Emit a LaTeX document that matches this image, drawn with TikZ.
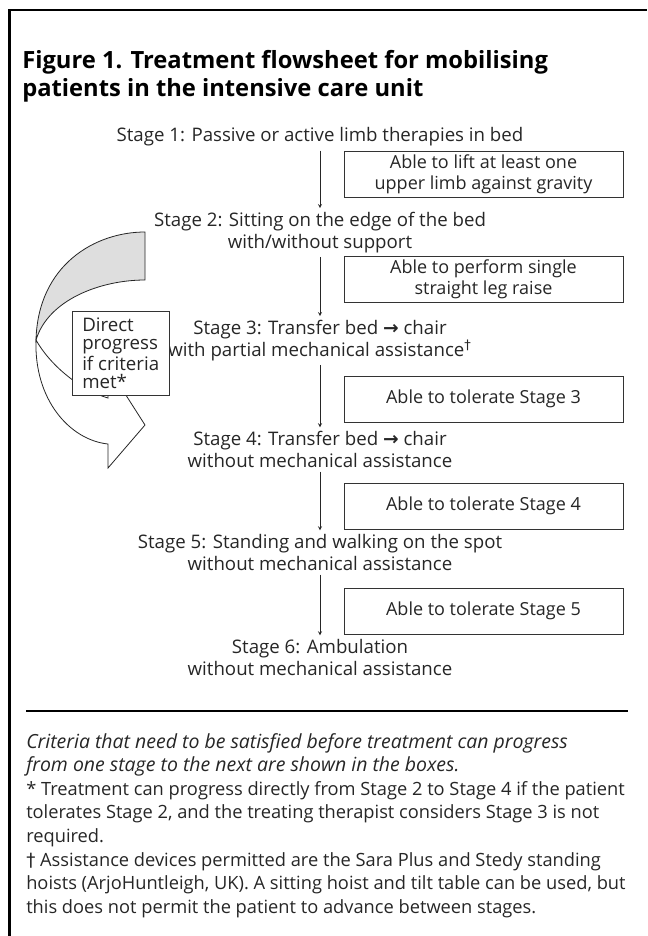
\documentclass[tikz,border=0pt]{standalone}
\usepackage{fontspec}
\setmainfont{Open Sans}
\newfontfamily\symfont{DejaVu Sans}
\usetikzlibrary{arrows,positioning}

\newcommand{\stagefont}{\fontsize{14}{16}\selectfont}
\newcommand{\critfont}{\fontsize{13.5}{16}\selectfont}
\newcommand{\titlefont}{\fontsize{17.8}{21}\selectfont\bfseries}
\newcommand{\notesfont}{\fontsize{13.7}{17.7}\selectfont}
\newcommand{\itnote}{\fontsize{14.6}{17.7}\selectfont\itshape}
\newcommand{\tobed}{{\symfont\bfseries\char"2192}}

\tikzset{
    frameline/.style={draw=black,line width=1.7pt},
    ruleline/.style={draw=black,line width=1.5pt},
    titletxt/.style={align=left,inner sep=0pt,text=black,font=\titlefont},
    stagetxt/.style={align=center,inner sep=1pt,text=black!85,font=\stagefont},
    critbox/.style={draw=black!80,fill=white,minimum width=209pt,minimum height=34.5pt,align=center,inner sep=0pt,text=black!85,font=\critfont},
    directbox/.style={draw=black!80,fill=white,minimum height=63pt,align=left,inner xsep=7.5pt,inner ysep=3pt,text=black!85,font=\fontsize{14}{14}\selectfont},
    notetxt/.style={align=left,inner sep=0pt,text=black!85,font=\notesfont},
    flow/.style={->,>=stealth,draw=black!85,thin,shorten <=2pt,shorten >=2pt},
    ribbonback/.style={draw=black!85,fill=black!13,line width=0.6pt},
    ribbonfront/.style={draw=black!85,fill=white,line width=0.6pt}
}

\begin{document}
\begin{tikzpicture}[x=0.75pt,y=-0.75pt]
    \useasboundingbox (0,0) rectangle (647,936);
    % frame and heading
    \draw[frameline] (9.5,936) -- (9.5,10) -- (647,10);
    \node[titletxt,anchor=west] (title) at (22,76) {Figure 1. Treatment flowsheet for mobilising\\patients in the intensive care unit};

    % stages
    \node[stagetxt] (st1) at (320,137) {Stage 1: Passive or active limb therapies in bed};
    \node[stagetxt] (st2) at (320,232.5) {Stage 2: Sitting on the edge of the bed\\with/without support};
    \node[stagetxt] (st3) at (320,340.5) {Stage 3: Transfer bed \tobed\ chair\\with partial mechanical assistance\textsuperscript{\symfont †}};
    \node[stagetxt] (st4) at (320,449.5) {Stage 4: Transfer bed \tobed\ chair\\without mechanical assistance};
    \node[stagetxt] (st5) at (320,552.5) {Stage 5: Standing and walking on the spot\\without mechanical assistance};
    \node[stagetxt] (st6) at (320,657.5) {Stage 6: Ambulation\\without mechanical assistance};

    % criteria
    \node[critbox] (cr1) at (483.5,174.5) {Able to lift at least one\\upper limb against gravity};
    \node[critbox] (cr2) at (483.5,279.5) {Able to perform single\\straight leg raise};
    \node[critbox] (cr3) at (483.5,399) {Able to tolerate Stage 3};
    \node[critbox] (cr4) at (483.5,506) {Able to tolerate Stage 4};
    \node[critbox] (cr5) at (483.5,611) {Able to tolerate Stage 5};

    \foreach \from/\to in {st1/st2,st2/st3,st3/st4,st4/st5,st5/st6}
        \draw[flow] (\from.south) -- (\to.north);

    % skip arrow from stage 2 to stage 4
    \filldraw[ribbonback] (145,232) .. controls (95,232) and (38,265) .. (36,340)
        .. controls (48,300) and (100,280) .. (145,280) -- cycle;
    \filldraw[ribbonfront] (36,340) .. controls (34,400) and (70,440) .. (108,444)
        -- (108,468) -- (145,425) -- (108,367) -- (108,398)
        .. controls (80,390) and (50,365) .. (36,340) -- cycle;
    \node[directbox,anchor=north west] (direct) at (72,311) {Direct\\progress\\if criteria\\met*};

    % notes
    \draw[ruleline] (26,711) -- (628,711);
    \node[notetxt,anchor=north west] (notes) at (26,733) {{\itnote Criteria that need to be satisfied before treatment can progress}\\{\itnote from one stage to the next are shown in the boxes.}\\* Treatment can progress directly from Stage 2 to Stage 4 if the patient\\tolerates Stage 2, and the treating therapist considers Stage 3 is not\\required.\\{\symfont †} Assistance devices permitted are the Sara Plus and Stedy standing\\hoists (ArjoHuntleigh, UK). A sitting hoist and tilt table can be used, but\\this does not permit the patient to advance between stages.};
\end{tikzpicture}
\end{document}
